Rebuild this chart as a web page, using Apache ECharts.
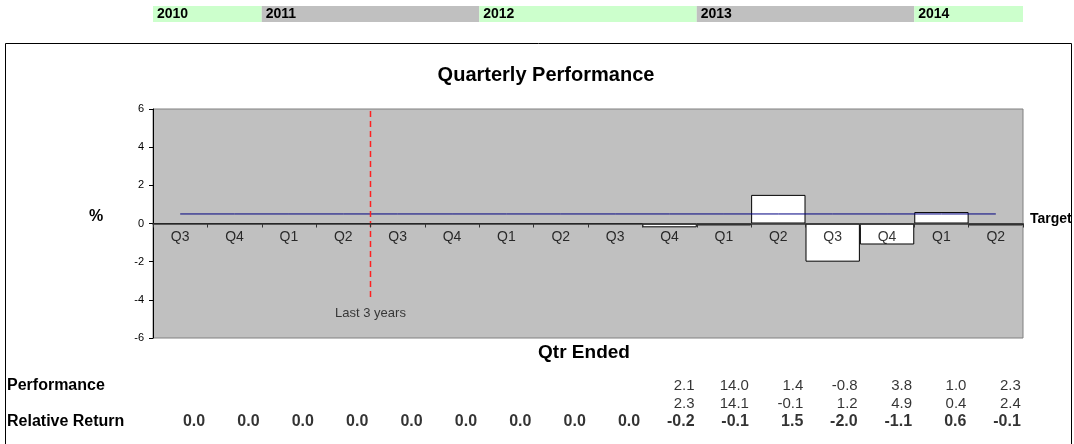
<!DOCTYPE html>
<html>
<head>
<meta charset="utf-8">
<script src="https://cdn.jsdelivr.net/npm/echarts@6/dist/echarts.min.js"></script>
<style>
html,body{margin:0;padding:0;background:#fff;}
#c{width:1074px;height:444px;}
</style>
</head>
<body>
<div id="c"></div>
<script>
// ---- data ----
var quarters = ['Q3','Q4','Q1','Q2','Q3','Q4','Q1','Q2','Q3','Q4','Q1','Q2','Q3','Q4','Q1','Q2'];
var relativeReturn = [0.0,0.0,0.0,0.0,0.0,0.0,0.0,0.0,0.0,-0.2,-0.1,1.5,-2.0,-1.1,0.6,-0.1];
var performance = [null,null,null,null,null,null,null,null,null,2.1,14.0,1.4,-0.8,3.8,1.0,2.3];
var benchmark = [null,null,null,null,null,null,null,null,null,2.3,14.1,-0.1,1.2,4.9,0.4,2.4];
var target = [0.5,0.5,0.5,0.5,0.5,0.5,0.5,0.5,0.5,0.5,0.5,0.5,0.5,0.5,0.5,0.5];
var yearLabels = ['2010','2011','2012','2013','2014'];
var yearStart = [0,2,6,10,14];
var yearEnd = [2,6,10,14,16];
var last3Years = [[4,5.9],[4,-3.95]];

var FONT = 'Liberation Sans, Arial, sans-serif';
var chart = echarts.init(document.getElementById('c'));

function rowPoints(arr, row){
  var out = [];
  arr.forEach(function(v,i){ if(v!==null && v!==undefined){ out.push([i,row,v]); } });
  return out;
}
var yearData = yearLabels.map(function(l,i){ return [yearStart[i], yearEnd[i], l, i%2]; });
var quarterPoints = quarters.map(function(q,i){ return [i, 0]; });

var tableLabel = function(bold, size){
  return {
    show:true, position:'inside', align:'right', offset:[25,0],
    fontFamily:FONT, fontSize:size, fontWeight:bold?'bold':'normal', color:'#000',
    formatter:function(p){ return p.value[2].toFixed(1); }
  };
};

var option = {
  animation:false,
  backgroundColor:'#fff',
  graphic:[
    {type:'rect', shape:{x:5.5,y:43.5,width:1066,height:420}, style:{fill:null, stroke:'#000', lineWidth:1}, z:-10},
    {type:'text', x:546, y:75, style:{text:'Quarterly Performance', font:'bold 20px '+FONT, fill:'#000', textAlign:'center', textVerticalAlign:'middle'}},
    {type:'text', x:96, y:217, style:{text:'%', font:'bold 16px '+FONT, fill:'#000', textAlign:'center', textVerticalAlign:'middle'}},
    {type:'text', x:1030, y:219, style:{text:'Target', font:'bold 14px '+FONT, fill:'#000', textAlign:'left', textVerticalAlign:'middle'}},
    {type:'text', x:584, y:353, style:{text:'Qtr Ended', font:'bold 19px '+FONT, fill:'#000', textAlign:'center', textVerticalAlign:'middle'}},
    {type:'text', x:7, y:386, style:{text:'Performance', font:'bold 16px '+FONT, fill:'#000', textAlign:'left', textVerticalAlign:'middle'}},
    {type:'text', x:7, y:422, style:{text:'Relative Return', font:'bold 16px '+FONT, fill:'#000', textAlign:'left', textVerticalAlign:'middle'}}
  ],
  grid:[
    {left:153, width:870, top:109, height:229, show:true, backgroundColor:'#C0C0C0', borderColor:'#808080', borderWidth:1},
    {left:153, width:870, top:6, height:16},
    {left:153, width:870, top:377, height:54}
  ],
  xAxis:[
    {gridIndex:0, type:'category', data:quarters, boundaryGap:true,
      axisLine:{onZero:true, lineStyle:{color:'#333', width:1.5}},
      axisTick:{show:true, interval:0, length:4, lineStyle:{color:'#333'}},
      axisLabel:{show:false},
      splitLine:{show:false}, z:5},
    {gridIndex:0, type:'value', min:0, max:16, show:false},
    {gridIndex:1, type:'value', min:0, max:16, show:false},
    {gridIndex:2, type:'category', data:quarters, show:false}
  ],
  yAxis:[
    {gridIndex:0, type:'value', min:-6, max:6, interval:2,
      axisLine:{show:true, lineStyle:{color:'#000'}},
      axisTick:{show:true, length:4, lineStyle:{color:'#000'}},
      axisLabel:{fontFamily:FONT, fontSize:11, color:'#000', margin:9},
      splitLine:{show:false}},
    {gridIndex:1, type:'value', min:0, max:1, show:false},
    {gridIndex:2, type:'value', min:0, max:3, inverse:true, show:false}
  ],
  series:[
    {type:'bar', xAxisIndex:0, yAxisIndex:0, data:relativeReturn, barCategoryGap:'0%',
      itemStyle:{color:'#fff', borderColor:'#000', borderWidth:1}, z:2},
    {type:'line', xAxisIndex:0, yAxisIndex:0, data:target, symbol:'none',
      lineStyle:{color:'#000080', width:1}, z:3},
    {type:'line', xAxisIndex:1, yAxisIndex:0, data:last3Years, symbol:'none',
      lineStyle:{color:'#FF2020', width:1.5, type:[6,4]}, z:4},
    {type:'scatter', xAxisIndex:1, yAxisIndex:0, data:[[4,-4.7,'Last 3 years']], symbolSize:0,
      label:{show:true, position:'inside', formatter:function(p){return p.value[2];}, fontFamily:FONT, fontSize:13, color:'#111'}},
    {type:'scatter', xAxisIndex:0, yAxisIndex:0, data:quarterPoints, symbolSize:0, z:6,
      label:{show:true, position:'inside', offset:[0,14], formatter:function(p){return quarters[p.dataIndex];}, fontFamily:FONT, fontSize:14, color:'#000'}},
    {type:'custom', xAxisIndex:2, yAxisIndex:1, data:yearData,
      renderItem:function(params, api){
        var p0 = api.coord([api.value(0), 1]);
        var p1 = api.coord([api.value(1), 0]);
        var col = api.value(3) === 0 ? '#CCFFCC' : '#C0C0C0';
        return {type:'group', children:[
          {type:'rect', shape:{x:p0[0], y:p0[1], width:p1[0]-p0[0], height:p1[1]-p0[1]}, style:{fill:col}},
          {type:'text', x:p0[0]+4, y:(p0[1]+p1[1])/2, style:{text:yearLabels[params.dataIndex], font:'bold 14px '+FONT, fill:'#000', textVerticalAlign:'middle'}}
        ]};
      }},
    {type:'scatter', xAxisIndex:3, yAxisIndex:2, data:rowPoints(performance,0.5), symbolSize:0, label:tableLabel(false,15)},
    {type:'scatter', xAxisIndex:3, yAxisIndex:2, data:rowPoints(benchmark,1.5), symbolSize:0, label:tableLabel(false,15)},
    {type:'scatter', xAxisIndex:3, yAxisIndex:2, data:rowPoints(relativeReturn,2.5), symbolSize:0, label:tableLabel(true,16)}
  ]
};
chart.setOption(option);
</script>
</body>
</html>
